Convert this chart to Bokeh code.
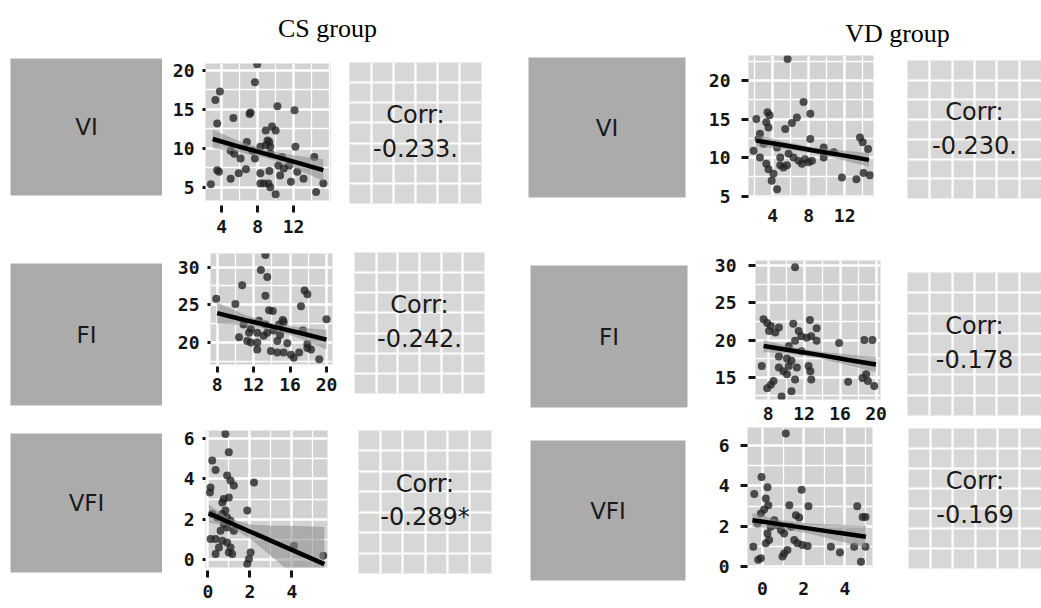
from bokeh.plotting import figure
from bokeh.layouts import row, column
from bokeh.models import Range1d, FixedTicker
from bokeh.core.properties import value
from bokeh.embed import file_html
from bokeh.resources import INLINE

group_titles = ["CS group", "VD group"]
var_labels = ["VI", "FI", "VFI"]
corr_head = "Corr:"
cs_corr = ["-0.233.", "-0.242.", "-0.289*"]
vd_corr = ["-0.230.", "-0.178", "-0.169"]

# ---- CS group scatter data ----
cs_vi_x = [7.95, 7.7, 3.8, 3.3, 3.5, 7.2, 7.1, 5.3, 10.2, 12.1, 8.9, 9.6, 10.0, 9.1, 9.3, 8.9, 12.2, 6.8, 5.0, 6.1,
           5.4, 7.7, 9.4, 9.4, 3.5, 3.7, 6.7, 5.9, 8.3, 9.3, 5.0, 10.3, 10.9, 11.5, 10.5, 8.3, 8.7, 9.2, 9.4, 10.0,
           2.8, 11.7, 13.1, 14.3, 15.3, 14.5, 7.4, 8.3, 12.4, 10.7]
cs_vi_y = [20.8, 18.5, 17.3, 16.2, 13.2, 14.6, 14.4, 13.9, 15.4, 14.9, 12.3, 12.8, 12.3, 11.0, 10.8, 10.4, 10.2, 10.8, 9.7, 8.7,
           9.3, 8.7, 9.3, 10.2, 7.2, 7.0, 7.3, 6.8, 6.8, 7.1, 6.1, 7.8, 7.4, 7.8, 6.5, 5.5, 5.5, 5.5, 5.0, 4.1,
           5.4, 5.7, 6.1, 8.9, 5.5, 4.4, 9.7, 10.2, 7.0, 8.9]
cs_vi_fit_x = [3.0, 6.0, 9.0, 12.0, 15.3]
cs_vi_fit_y = [11.2, 10.2, 9.25, 8.3, 7.2]
cs_vi_lo = [10.0, 9.5, 8.75, 7.5, 5.8]
cs_vi_hi = [12.4, 10.9, 9.75, 9.1, 8.6]

cs_fi_x = [13.3, 12.8, 13.5, 10.75, 13.3, 7.9, 10.0, 13.7, 14.1, 17.6, 17.9, 17.2, 20.0, 12.6, 15.2, 15.3, 14.8, 13.3, 11.7, 11.5,
           12.4, 13.5, 14.2, 11.3, 11.7, 12.4, 14.6, 15.7, 12.4, 13.9, 14.6, 15.3, 16.1, 17.0, 16.4, 17.9, 18.3, 19.2, 10.4, 13.1,
           14.9, 17.9, 10.9, 17.4]
cs_fi_y = [31.6, 29.6, 28.7, 27.6, 26.2, 25.8, 25.1, 24.3, 24.2, 26.9, 26.4, 24.8, 23.1, 22.9, 23.0, 22.7, 22.4, 22.4, 21.8, 21.3,
           21.3, 21.3, 21.6, 20.2, 20.0, 20.0, 20.2, 19.9, 19.1, 18.9, 18.7, 18.7, 18.4, 18.7, 18.0, 19.3, 19.1, 17.8, 20.7, 20.9,
           21.0, 19.8, 22.4, 21.6]
cs_fi_fit_x = [8.0, 11.0, 14.0, 17.0, 20.0]
cs_fi_fit_y = [23.9, 23.0, 22.15, 21.3, 20.4]
cs_fi_lo = [22.5, 22.3, 21.7, 20.6, 19.1]
cs_fi_hi = [25.3, 23.7, 22.6, 22.0, 21.7]

cs_vfi_x = [0.84, 1.0, 0.21, 0.37, 0.13, 0.1, 0.92, 1.08, 1.24, 2.2, 0.76, 1.0, 0.69, 1.88, 0.21, 0.45, 0.69, 0.92, 1.08, 0.76,
            0.61, 0.92, 0.13, 0.37, 0.69, 0.92, 0.53, 0.37, 1.0, 1.16, 1.08, 2.04, 1.96, 1.88, 4.1, 5.5, 1.24, 0.84]
cs_vfi_y = [6.25, 5.33, 4.92, 4.45, 3.58, 3.33, 4.17, 3.92, 3.67, 3.83, 3.0, 3.08, 2.83, 2.42, 2.25, 2.08, 2.25, 2.08, 1.92, 1.75,
            1.42, 1.58, 1.0, 1.0, 0.92, 0.83, 0.58, 0.25, 0.33, 0.25, 0.58, 0.33, 0.0, -0.25, 0.67, 0.17, 1.42, 2.42]
cs_vfi_fit_x = [0.05, 1.0, 2.0, 3.0, 4.0, 5.55]
cs_vfi_fit_y = [2.28, 1.84, 1.38, 0.92, 0.46, -0.25]
cs_vfi_lo = [1.83, 1.64, 1.03, 0.17, -0.74, -2.1]
cs_vfi_hi = [2.73, 2.04, 1.73, 1.67, 1.66, 1.6]

# ---- VD group scatter data ----
vd_vi_x = [5.67, 7.44, 8.19, 6.7, 6.15, 5.4, 2.2, 3.44, 3.67, 3.3, 3.55, 2.6, 2.44, 3.0, 8.19, 9.67, 13.7, 14.0, 14.6, 1.9,
           2.6, 3.3, 3.55, 4.1, 3.9, 4.5, 4.85, 5.2, 5.6, 6.33, 6.9, 7.26, 7.6, 8.0, 8.37, 5.78, 10.8, 11.7, 13.3, 14.1,
           14.8, 4.5, 4.85, 9.67]
vd_vi_y = [22.8, 17.2, 15.7, 15.2, 14.5, 13.7, 15.0, 15.9, 15.5, 14.6, 13.9, 13.1, 12.4, 11.8, 12.4, 11.3, 12.6, 12.0, 11.1, 10.9,
           10.0, 9.2, 8.5, 7.9, 7.0, 5.9, 9.0, 8.7, 9.0, 10.0, 9.6, 9.2, 9.8, 9.4, 9.6, 10.5, 10.7, 7.4, 7.2, 8.0,
           7.7, 11.3, 10.0, 10.0]
vd_vi_fit_x = [2.2, 5.3, 8.4, 11.5, 14.7]
vd_vi_fit_y = [12.2, 11.6, 10.95, 10.35, 9.7]
vd_vi_lo = [11.4, 11.1, 10.55, 9.75, 8.8]
vd_vi_hi = [13.0, 12.1, 11.35, 10.95, 10.6]

vd_fi_x = [11.0, 7.5, 7.9, 8.3, 9.2, 8.8, 8.1, 10.8, 12.65, 13.4, 11.4, 11.7, 12.3, 12.8, 13.4, 11.0, 10.3, 15.9, 18.7, 19.6,
           7.3, 9.2, 9.7, 10.3, 10.6, 10.1, 11.2, 10.1, 11.0, 12.5, 12.7, 12.8, 8.6, 8.3, 7.9, 9.5, 10.6, 16.9, 18.5, 19.1,
           19.8, 18.9, 11.7, 9.2]
vd_fi_y = [29.8, 22.8, 22.3, 21.9, 21.7, 21.0, 21.2, 22.2, 22.7, 21.6, 21.2, 20.5, 20.3, 20.5, 19.9, 19.9, 19.2, 19.6, 20.0, 20.0,
           16.5, 16.3, 15.8, 16.5, 17.2, 17.5, 16.3, 15.4, 14.7, 16.5, 15.8, 14.7, 14.5, 14.0, 13.5, 12.4, 13.1, 14.4, 14.9, 14.5,
           13.8, 15.4, 18.5, 17.8]
vd_fi_fit_x = [7.5, 10.6, 13.7, 16.8, 20.0]
vd_fi_fit_y = [19.2, 18.6, 18.0, 17.35, 16.7]
vd_fi_lo = [18.4, 18.15, 17.55, 16.65, 15.7]
vd_fi_hi = [20.0, 19.05, 18.45, 18.05, 17.7]

vd_vfi_x = [1.13, -0.05, 0.24, -0.4, 0.16, 0.28, 0.08, -0.08, 1.3, 1.9, 2.23, 1.62, 1.78, 4.6, 4.86, 5.0, -0.24, 0.4, 0.73, 0.9,
            1.05, 0.24, 0.32, 0.16, 1.54, 1.7, 1.94, 2.19, -0.45, 1.05, 0.97, 1.21, -0.08, -0.21, 3.32, 3.76, 4.45, 5.0, 4.78, 0.57,
            1.38]
vd_vfi_y = [6.6, 4.44, 3.94, 3.6, 3.37, 3.04, 2.83, 2.63, 3.04, 3.81, 2.99, 2.55, 2.43, 2.99, 2.46, 2.46, 2.13, 1.97, 2.05, 1.8,
            1.64, 1.64, 1.31, 1.15, 1.31, 1.15, 1.07, 1.02, 0.98, 0.65, 0.49, 0.82, 0.41, 0.33, 0.98, 0.69, 0.98, 0.98, 0.24, 2.3,
            1.97]
vd_vfi_fit_x = [-0.49, 0.9, 2.3, 3.7, 5.02]
vd_vfi_fit_y = [2.3, 2.09, 1.88, 1.67, 1.48]
vd_vfi_lo = [1.95, 1.89, 1.63, 1.27, 0.93]
vd_vfi_hi = [2.65, 2.29, 2.13, 2.07, 2.03]

# tick values
cs_vi_xticks, cs_vi_xminor, cs_vi_yticks, cs_vi_yminor = [4, 8, 12], [2, 6, 10, 14, 16], [5, 10, 15, 20], [7.5, 12.5, 17.5]
cs_fi_xticks, cs_fi_xminor, cs_fi_yticks, cs_fi_yminor = [8, 12, 16, 20], [10, 14, 18], [15, 20, 25, 30], [17.5, 22.5, 27.5]
cs_vfi_xticks, cs_vfi_xminor, cs_vfi_yticks, cs_vfi_yminor = [0, 2, 4], [1, 3, 5], [0, 2, 4, 6], [1, 3, 5]
vd_vi_xticks, vd_vi_xminor, vd_vi_yticks, vd_vi_yminor = [4, 8, 12], [2, 6, 10, 14], [5, 10, 15, 20], [7.5, 12.5, 17.5, 22.5]
vd_fi_xticks, vd_fi_xminor, vd_fi_yticks, vd_fi_yminor = [8, 12, 16, 20], [10, 14, 18], [15, 20, 25, 30], [12.5, 17.5, 22.5, 27.5]
vd_vfi_xticks, vd_vfi_xminor, vd_vfi_yticks, vd_vfi_yminor = [0, 2, 4], [1, 3, 5], [0, 2, 4, 6], [1, 3, 5]

LABEL_BG = "#ababab"
PANEL_BG = "#d2d2d2"
CORR_BG = "#d7d7d7"
TXT = "#1a1a1a"


def base_fig(box, xr, yr, axes=False):
    W, H, bl, bt, fw, fh = box
    kw = dict(width=W, height=H, x_range=Range1d(*xr), y_range=Range1d(*yr),
              min_border_left=bl, min_border_right=W - bl - fw,
              min_border_top=bt, min_border_bottom=H - bt - fh,
              output_backend="svg", toolbar_location=None)
    if not axes:
        kw.update(x_axis_location=None, y_axis_location=None)
    p = figure(**kw)
    p.frame_align = False
    p.outline_line_color = None
    p.border_fill_color = "white"
    return p


def title_fig(box, text, dy):
    p = base_fig(box, (0, 1), (0, 1))
    p.grid.visible = False
    p.background_fill_color = None
    p.text(x=[0.5], y=[0.5], text=[text], text_align="center", text_baseline="middle", y_offset=dy,
           text_font=value("Liberation Serif"), text_font_size="26px", text_color="black")
    return p


def label_fig(box, text):
    p = base_fig(box, (0, 1), (0, 1))
    p.grid.visible = False
    p.background_fill_color = LABEL_BG
    p.text(x=[0.5], y=[0.5], text=[text], text_align="center", text_baseline="middle",
           text_font=value("DejaVu Sans"), text_font_size="23px", text_color=TXT)
    return p


def corr_fig(box, corr):
    p = base_fig(box, (0, 6), (0, 7))
    p.background_fill_color = CORR_BG
    p.xgrid.ticker = FixedTicker(ticks=[1, 2, 3, 4, 5])
    p.ygrid.ticker = FixedTicker(ticks=[1, 2, 3, 4, 5, 6])
    p.grid.grid_line_color = "white"
    p.grid.grid_line_width = 2.2
    p.grid.grid_line_alpha = 1.0
    common = dict(text_align="center", text_baseline="middle",
                  text_font=value("DejaVu Sans"), text_font_size="24px", text_color=TXT)
    p.text(x=[3], y=[3.5], text=[corr_head], y_offset=-18, **common)
    p.text(x=[3], y=[3.5], text=[corr], y_offset=15, **common)
    return p


def scatter_fig(box, xs, ys, fx, fy, lo, hi, xr, yr, xt, xm, yt, ym, ax):
    p = base_fig(box, xr, yr, axes=True)
    p.background_fill_color = PANEL_BG
    p.xaxis.ticker = FixedTicker(ticks=xt, minor_ticks=xm)
    p.yaxis.ticker = FixedTicker(ticks=yt, minor_ticks=ym)
    p.grid.grid_line_color = "white"
    p.grid.grid_line_width = 2.4
    p.grid.grid_line_alpha = 1.0
    p.grid.minor_grid_line_color = "white"
    p.grid.minor_grid_line_width = 1.3
    p.scatter(xs, ys, size=8, fill_color="#222222", fill_alpha=0.78, line_color=None)
    p.varea(x=fx, y1=lo, y2=hi, fill_color="#8a8a8a", fill_alpha=0.55)
    p.line(fx, fy, line_color="black", line_width=4.5)
    for a in (p.xaxis[0], p.yaxis[0]):
        a.axis_line_color = None
        a.minor_tick_line_color = None
        a.major_label_text_font = "DejaVu Sans Mono"
        a.major_label_text_font_size = "18px"
        a.major_label_text_font_style = "bold"
        a.major_label_text_color = "#151515"
        a.major_tick_line_color = "#151515"
    xa, ya = p.xaxis[0], p.yaxis[0]
    xa.major_tick_in, xa.major_tick_out, xa.major_tick_line_width = ax["xin"], ax["xout"], 3
    xa.major_label_standoff = ax["xs"]
    if ax["xout"] == 0:
        xa.major_tick_line_color = None
    ya.major_tick_in, ya.major_tick_out, ya.major_tick_line_width = 0, ax["yout"], 3
    ya.major_label_standoff = ax["ys"]
    return p


# axis styles
AX_CS1 = dict(xin=-5, xout=12, xs=7, yout=3, ys=7)
AX_CS2 = dict(xin=-2, xout=8, xs=5, yout=3, ys=7)
AX_CS3 = dict(xin=-3, xout=10, xs=7, yout=3, ys=7)
AX_VD1 = dict(xin=0, xout=0, xs=8, yout=7, ys=11)
AX_VD2 = dict(xin=0, xout=0, xs=3, yout=7, ys=12)
AX_VD3 = dict(xin=0, xout=0, xs=10, yout=7, ys=11)

# ---------- CS group (page x 0-520) ----------
cs_title = title_fig((520, 50, 134, 0, 386, 50), group_titles[0], 3)
cs_r1 = row(
    label_fig((162, 193, 10, 8, 152, 137), var_labels[0]),
    scatter_fig((178, 193, 43, 13, 125, 137), cs_vi_x, cs_vi_y, cs_vi_fit_x, cs_vi_fit_y, cs_vi_lo, cs_vi_hi,
                (2.2, 16.1), (3.3, 20.9), cs_vi_xticks, cs_vi_xminor, cs_vi_yticks, cs_vi_yminor, AX_CS1),
    corr_fig((180, 193, 9, 12, 132, 141), cs_corr[0]),
)
cs_r2 = row(
    label_fig((162, 177, 10, 20, 152, 142), var_labels[1]),
    scatter_fig((182, 177, 48, 10, 122, 111), cs_fi_x, cs_fi_y, cs_fi_fit_x, cs_fi_fit_y, cs_fi_lo, cs_fi_hi,
                (7.27, 20.66), (17.1, 31.8), cs_fi_xticks, cs_fi_xminor, cs_fi_yticks, cs_fi_yminor, AX_CS2),
    corr_fig((176, 177, 10, 9, 130, 141), cs_corr[1]),
)
cs_r3 = row(
    label_fig((162, 186, 10, 13, 152, 139), var_labels[2]),
    scatter_fig((178, 186, 43, 10, 122, 137), cs_vfi_x, cs_vfi_y, cs_vfi_fit_x, cs_vfi_fit_y, cs_vfi_lo, cs_vfi_hi,
                (-0.11, 5.7), (-0.42, 6.42), cs_vfi_xticks, cs_vfi_xminor, cs_vfi_yticks, cs_vfi_yminor, AX_CS3),
    corr_fig((180, 186, 18, 10, 133, 143), cs_corr[2]),
)
cs_col = column(cs_title, cs_r1, cs_r2, cs_r3)

# ---------- VD group (page x 520-1041) ----------
vd_title = title_fig((521, 50, 233, 0, 288, 50), group_titles[1], 8)
vd_r1 = row(
    label_fig((170, 190, 8, 7, 157, 140), var_labels[0]),
    scatter_fig((205, 190, 58, 5, 125, 141), vd_vi_x, vd_vi_y, vd_vi_fit_x, vd_vi_fit_y, vd_vi_lo, vd_vi_hi,
                (1.33, 15.2), (4.95, 23.25), vd_vi_xticks, vd_vi_xminor, vd_vi_yticks, vd_vi_yminor, AX_VD1),
    corr_fig((146, 190, 12, 10, 134, 138), vd_corr[0]),
)
vd_r2 = row(
    label_fig((170, 185, 10, 25, 157, 142), var_labels[1]),
    scatter_fig((205, 185, 65, 20, 125, 139), vd_fi_x, vd_fi_y, vd_fi_fit_x, vd_fi_fit_y, vd_fi_lo, vd_fi_hi,
                (6.6, 20.5), (12.0, 30.7), vd_fi_xticks, vd_fi_xminor, vd_fi_yticks, vd_fi_yminor, AX_VD2),
    corr_fig((146, 185, 12, 32, 134, 143), vd_corr[1]),
)
vd_r3 = row(
    label_fig((170, 181, 10, 15, 155, 140), var_labels[2]),
    scatter_fig((205, 181, 57, 2, 125, 140), vd_vfi_x, vd_vfi_y, vd_vfi_fit_x, vd_vfi_fit_y, vd_vfi_lo, vd_vfi_hi,
                (-0.73, 5.34), (-0.05, 6.9), vd_vfi_xticks, vd_vfi_xminor, vd_vfi_yticks, vd_vfi_yminor, AX_VD3),
    corr_fig((146, 181, 13, 3, 133, 140), vd_corr[2]),
)
vd_col = column(vd_title, vd_r1, vd_r2, vd_r3)

layout = row(cs_col, vd_col)

open("out.html", "w").write(file_html(layout, INLINE))
